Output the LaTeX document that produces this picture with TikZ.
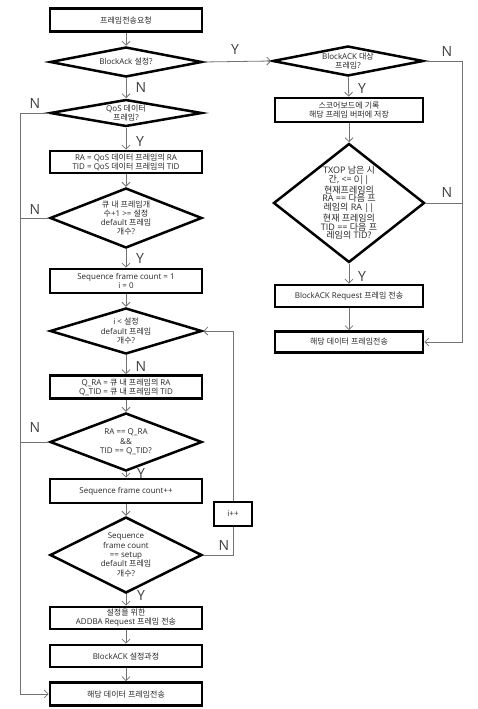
\documentclass[tikz,border=0pt]{standalone}
\usepackage{fontspec}
\setmainfont{Open Sans}
\newfontfamily\krfont{Noto Sans CJK KR}
\XeTeXinterchartokenstate=1
\newXeTeXintercharclass\krcls
\count255="AC00
\loop \XeTeXcharclass\count255=\krcls \advance\count255 by 1 \ifnum\count255<"D7A4 \repeat
\XeTeXinterchartoks 0 \krcls = {\krfont}
\XeTeXinterchartoks 4095 \krcls = {\krfont}
\XeTeXinterchartoks \krcls 0 = {\rmfamily}
\XeTeXinterchartoks \krcls 4095 = {\rmfamily}
\usetikzlibrary{arrows.meta,shapes.geometric}
\tikzset{
  box/.style={draw, line width=2.7pt, minimum width=152pt, minimum height=23pt,
    inner sep=0pt, align=center, font=\fontsize{8}{9.2}\selectfont, text=black!85},
  rbox/.style={box, minimum width=148pt},
  dia/.style={draw, diamond, line width=2.5pt, inner sep=0pt, minimum width=152pt},
  dtxt/.style={align=center, font=\fontsize{8}{9.3}\selectfont, text=black!85, inner sep=0pt},
  conn/.style={draw=black!55, line width=0.8pt},
  arr/.style={conn, -{Straight Barb[length=4pt,width=8pt]}},
  yn/.style={font=\fontsize{14}{14}\selectfont, text=black!75, inner sep=0pt}
}
\begin{document}
\begin{tikzpicture}[x=1pt,y=-1pt]
\useasboundingbox (0,0) rectangle (477,709);
\coordinate (lx) at (20,0);
\coordinate (rx) at (462,0);
% left column
\node[box] (b1) at (126,20) {프레임전송요청};
\node[dia, minimum height=30pt, label={[dtxt]center:BlockAck 설정?}] (d1) at (126,62) {};
\node[dia, minimum height=27pt, label={[dtxt]center:QoS 데이터\\프레임?}] (d2) at (126,113) {};
\node[box, minimum height=22pt] (b2) at (126,162) {RA = QoS 데이터 프레임의 RA\\TID = QoS 데이터 프레임의 TID};
\node[dia, minimum height=60pt, label={[dtxt]center:큐 내 프레임개\\수+1 >= 설정\\default 프레임\\개수?}] (d3) at (126,218) {};
\node[box, minimum height=24pt] (b3) at (126,281) {Sequence frame count = 1\\i = 0};
\node[dia, minimum height=46pt, label={[dtxt]center:i < 설정\\default 프레임\\개수?}] (d4) at (126,331) {};
\node[box] (b4) at (126,387) {Q\_RA = 큐 내 프레임의 RA\\Q\_TID = 큐 내 프레임의 TID};
\node[dia, minimum height=58pt, label={[dtxt]center:RA == Q\_RA\\\&\&\\TID == Q\_TID?}] (d5) at (126,442) {};
\node[box, minimum height=24pt] (b5) at (126,491) {Sequence frame count++};
\node[dia, minimum height=76pt, label={[dtxt]center:Sequence\\frame count\\== setup\\default 프레임\\개수?}] (d6) at (126,555) {};
\node[box, minimum height=22pt] (b6) at (126,618) {설정을 위한\\ADDBA Request 프레임 전송};
\node[box, minimum height=22pt] (b7) at (126,656) {BlockACK 설정과정};
\node[box] (b8) at (126,694) {해당 데이터 프레임전송};
\node[box, minimum width=38pt, minimum height=24pt] (inc) at (233,514) {i++};
% right column
\node[dia, minimum width=151pt, minimum height=30pt, label={[dtxt]center:BlockACK 대상\\프레임?}] (d7) at (348,61) {};
\node[rbox, minimum height=24pt] (b9) at (349,110) {스코어보드에 기록\\해당 프레임 버퍼에 저장};
\node[dia, minimum width=151pt, minimum height=119pt, label={[dtxt, font=\fontsize{9}{8.8}\selectfont]center:TXOP 남은 시\\간, <= 0||\\현재프레임의\\RA == 다음 프\\레임의 RA ||\\현재 프레임의\\TID == 다음 프\\레임의 TID?}] (d8) at (349,203) {};
\node[rbox, minimum height=22pt] (b10) at (349,296) {BlockACK Request 프레임 전송};
\node[rbox, minimum height=21pt] (b11) at (349,342) {해당 데이터 프레임전송};
% connectors left
\draw[arr] (b1) -- (d1);
\draw[arr] (d1) -- (d2);
\draw[arr] (d1.east) -- (d7.west);
\draw[arr] (d2.west) -- (d2.west -| lx) -- (b8.west -| lx) -- (b8.west);
\draw[arr] (d2) -- (b2);
\draw[arr] (b2) -- (d3);
\draw[conn] (d3.west) -- (d3.west -| lx);
\draw[arr] (d3) -- (b3);
\draw[arr] (b3) -- (d4);
\draw[arr] (d4) -- (b4);
\draw[arr] (b4) -- (d5);
\draw[conn] (d5.west) -- (d5.west -| lx);
\draw[arr] (d5) -- (b5);
\draw[arr] (b5) -- (d6);
\draw[conn] (d6.east) -| (inc.south);
\draw[arr] (inc.north) |- (d4.east);
\draw[arr] (d6) -- (b6);
\draw[arr] (b6) -- (b7);
\draw[arr] (b7) -- (b8);
% connectors right
\draw[arr] (d7.east) -- (d7.east -| rx) -- (b11.east -| rx) -- (b11.east);
\draw[arr] (d7) -- (b9);
\draw[arr] (b9) -- (d8);
\draw[conn] (d8.east) -- (d8.east -| rx);
\draw[arr] (d8) -- (b10);
\draw[arr] (b10) -- (b11);
% Y/N labels
\node[yn] (l1) at (235,50) {Y};
\node[yn] (l2) at (141,88) {N};
\node[yn] (l3) at (35,104) {N};
\node[yn] (l4) at (140,142) {Y};
\node[yn] (l5) at (35,210) {N};
\node[yn] (l6) at (140,259) {Y};
\node[yn] (l7) at (141,366) {N};
\node[yn] (l8) at (35,427) {N};
\node[yn] (l9) at (141,473) {Y};
\node[yn] (l10) at (224,545) {N};
\node[yn] (l11) at (141,595) {Y};
\node[yn] (l12) at (447,52) {N};
\node[yn] (l13) at (362,89) {Y};
\node[yn] (l14) at (447,193) {N};
\node[yn] (l15) at (362,276) {Y};
\end{tikzpicture}
\end{document}
